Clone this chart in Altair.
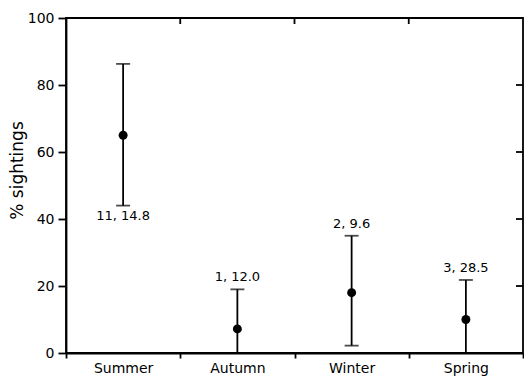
import altair as alt
import pandas as pd

seasons = ["Summer", "Autumn", "Winter", "Spring"]
means = [65, 7.2, 18, 10]
upper = [86.3, 19, 35, 21.8]
lower = [44, 0, 2.2, 0]
labels = ["11, 14.8", "1, 12.0", "2, 9.6", "3, 28.5"]
label_side = ["below", "above", "above", "above"]
y_ticks = [0, 20, 40, 60, 80, 100]
inner_ticks = [20, 40, 60, 80]
boundaries = ["Autumn", "Winter", "Spring"]

df = pd.DataFrame({"season": seasons, "mean": means, "upper": upper,
                   "lower": lower, "label": labels, "side": label_side})
df["label_y"] = [l if s == "below" else u for l, u, s in zip(lower, upper, label_side)]

FONT = "DejaVu Sans"
W, H = 457, 335

xscale = alt.Scale(domain=seasons, paddingInner=0, paddingOuter=0)
yscale = alt.Scale(domain=[0, 100], nice=False, zero=True)

base = alt.Chart(df)

x_enc = alt.X("season:N", scale=xscale, sort=seasons,
              axis=alt.Axis(title=None, labelAngle=0, tickBand="extent",
                            labelFont=FONT, labelFontSize=14, labelColor="black",
                            domainColor="black", domainWidth=1.8, tickColor="black",
                            tickWidth=1.8, tickSize=5, labelPadding=3))
y_enc = alt.Y("mean:Q", scale=yscale,
              axis=alt.Axis(title="% sightings", values=y_ticks, grid=False,
                            labelFont=FONT, labelFontSize=14, labelColor="black",
                            titleFont=FONT, titleFontSize=17, titleFontWeight="normal",
                            titleColor="black", titleX=-40, titleY=152,
                            domainColor="black", domainWidth=1.8, tickColor="black",
                            tickWidth=1.8, tickSize=8, labelPadding=4))

rules = base.mark_rule(color="black", strokeWidth=1.8).encode(
    x=x_enc, y=alt.Y("lower:Q", scale=yscale), y2="upper:Q")
caps_up = base.mark_tick(color="black", thickness=1.8, size=14, orient="horizontal").encode(
    x=alt.X("season:N", scale=xscale, sort=seasons), y=alt.Y("upper:Q", scale=yscale))
caps_lo = base.mark_tick(color="black", thickness=1.8, size=14, orient="horizontal").encode(
    x=alt.X("season:N", scale=xscale, sort=seasons), y=alt.Y("lower:Q", scale=yscale))
points = base.mark_circle(color="black", opacity=1, size=80).encode(
    x=alt.X("season:N", scale=xscale, sort=seasons), y=y_enc)

txt_below = base.transform_filter(alt.datum.side == "below").mark_text(
    font=FONT, fontSize=13, color="black", baseline="top", dy=4).encode(
    x=alt.X("season:N", scale=xscale, sort=seasons), y=alt.Y("label_y:Q", scale=yscale), text="label:N")
txt_above = base.transform_filter(alt.datum.side == "above").mark_text(
    font=FONT, fontSize=13, color="black", baseline="bottom", dy=-5).encode(
    x=alt.X("season:N", scale=xscale, sort=seasons), y=alt.Y("label_y:Q", scale=yscale), text="label:N")

right_ticks = alt.Chart(pd.DataFrame({"v": inner_ticks})).mark_rule(color="black", strokeWidth=1.8).encode(
    x=alt.value(W - 7), x2=alt.value(W), y=alt.Y("v:Q", scale=yscale))
top_ticks = alt.Chart(pd.DataFrame({"b": boundaries})).mark_rule(color="black", strokeWidth=1.8).encode(
    x=alt.X("b:N", scale=xscale, sort=seasons, bandPosition=0), y=alt.value(0), y2=alt.value(6))

chart = alt.layer(rules, caps_up, caps_lo, points, txt_below, txt_above, right_ticks, top_ticks).properties(
    width=W, height=H, autosize=alt.AutoSizeParams(type="none"),
    padding={"left": 66, "top": 18, "right": 1, "bottom": 23},
    background="white"
).configure_view(stroke="black", strokeWidth=1.8)

chart.save("out.html", embed_options={"renderer": "svg", "actions": False})
